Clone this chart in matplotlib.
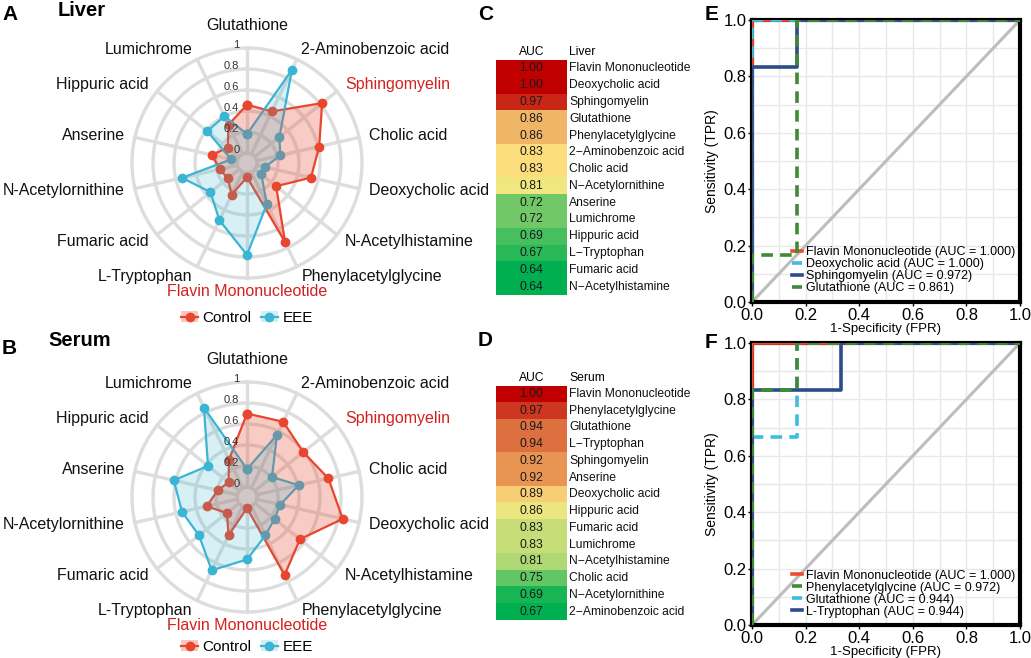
import numpy as np
import matplotlib
matplotlib.use('Agg')
from matplotlib import pyplot as plt
from matplotlib.colors import LinearSegmentedColormap, TwoSlopeNorm
from matplotlib.lines import Line2D
from matplotlib.patches import Patch

plt.rcParams['font.family'] = ['Liberation Sans', 'DejaVu Sans']

# ---- data ----
metabolites = ['Glutathione', '2-Aminobenzoic acid', 'Sphingomyelin', 'Cholic acid',
               'Deoxycholic acid', 'N-Acetylhistamine', 'Phenylacetylglycine',
               'Flavin Mononucleotide', 'L-Tryptophan', 'Fumaric acid',
               'N-Acetylornithine', 'Anserine', 'Hippuric acid', 'Lumichrome']
highlight = ['Sphingomyelin', 'Flavin Mononucleotide']

liver_control = [0.46, 0.45, 0.82, 0.61, 0.53, 0.26, 0.74, 0.04, 0.24, 0.14, 0.17, 0.25, 0.14, 0.31]
liver_eee = [0.18, 0.89, 0.30, 0.23, 0.08, 0.08, 0.34, 0.78, 0.51, 0.35, 0.54, 0.06, 0.39, 0.40]
serum_control = [0.70, 0.70, 0.59, 0.70, 0.84, 0.55, 0.73, 0.01, 0.31, 0.15, 0.30, 0.19, 0.13, 0.30]
serum_eee = [0.17, 0.56, 0.21, 0.41, 0.23, 0.24, 0.31, 0.50, 0.68, 0.49, 0.54, 0.62, 0.38, 0.85]
radial_ticks = [0, 0.2, 0.4, 0.6, 0.8, 1]
radial_labels = ['0', '0.2', '0.4', '0.6', '0.8', '1']

liver_auc_names = ['Flavin Mononucleotide', 'Deoxycholic acid', 'Sphingomyelin', 'Glutathione',
                   'Phenylacetylglycine', '2\u2212Aminobenzoic acid', 'Cholic acid',
                   'N\u2212Acetylornithine', 'Anserine', 'Lumichrome', 'Hippuric acid',
                   'L\u2212Tryptophan', 'Fumaric acid', 'N\u2212Acetylhistamine']
liver_auc = [1.00, 1.00, 0.97, 0.86, 0.86, 0.83, 0.83, 0.81, 0.72, 0.72, 0.69, 0.67, 0.64, 0.64]
serum_auc_names = ['Flavin Mononucleotide', 'Phenylacetylglycine', 'Glutathione', 'L\u2212Tryptophan',
                   'Sphingomyelin', 'Anserine', 'Deoxycholic acid', 'Hippuric acid',
                   'Fumaric acid', 'Lumichrome', 'N\u2212Acetylhistamine', 'Cholic acid',
                   'N\u2212Acetylornithine', '2\u2212Aminobenzoic acid']
serum_auc = [1.00, 0.97, 0.94, 0.94, 0.92, 0.92, 0.89, 0.86, 0.83, 0.83, 0.81, 0.75, 0.69, 0.67]

# ROC curves (fpr, tpr)
liver_roc_names = ['Flavin Mononucleotide', 'Deoxycholic acid', 'Sphingomyelin', 'Glutathione']
liver_roc_auc = [1.000, 1.000, 0.972, 0.861]
liver_roc_fpr = [[0, 0, 1], [0, 0, 1], [0, 0, 1/6, 1/6, 1], [0, 0, 1/6, 1/6, 1]]
liver_roc_tpr = [[0, 1, 1], [0, 1, 1], [0, 5/6, 5/6, 1, 1], [0, 1/6, 1/6, 1, 1]]
serum_roc_names = ['Flavin Mononucleotide', 'Phenylacetylglycine', 'Glutathione', 'L-Tryptophan']
serum_roc_auc = [1.000, 0.972, 0.944, 0.944]
serum_roc_fpr = [[0, 0, 1], [0, 0, 1/6, 1/6, 1], [0, 0, 1/6, 1/6, 1], [0, 0, 2/6, 2/6, 1]]
serum_roc_tpr = [[0, 1, 1], [0, 5/6, 5/6, 1, 1], [0, 4/6, 4/6, 1, 1], [0, 5/6, 5/6, 1, 1]]

RED = '#E8462E'
BLUE = '#3AB5D3'
C_RED, C_CYAN, C_NAVY, C_GREEN = '#F04A2E', '#3EBDE2', '#2C4C8C', '#3E8B33'
W, H = 1031, 658
R0 = 0.095  # radial offset so that 0 sits on a small inner circle

fig = plt.figure(figsize=(W / 100, H / 100), dpi=100)


def rr(v):
    return (np.asarray(v, dtype=float) + R0) / (1 + R0)


def radar(cx, cy, ctrl, eee):
    R = 115
    ax = fig.add_axes([(cx - R) / W, 1 - (cy + R) / H, 2 * R / W, 2 * R / H])
    ax.set_xlim(-1, 1)
    ax.set_ylim(-1, 1)
    ax.axis('off')
    n = len(metabolites)
    th = np.arange(n) * 2 * np.pi / n
    tt = np.linspace(0, 2 * np.pi, 361)
    for lv in radial_ticks:
        ax.plot(rr(lv) * np.sin(tt), rr(lv) * np.cos(tt), color='#DDDDDD', lw=2.4,
                zorder=1, clip_on=False)
    for t in th:
        ax.plot(rr([0, 1]) * np.sin(t), rr([0, 1]) * np.cos(t), color='#DDDDDD', lw=2.4,
                zorder=1, clip_on=False)
    thc = np.append(th, th[0])
    for vals, col in [(ctrl, RED), (eee, BLUE)]:
        r = rr(np.append(vals, vals[0]))
        ax.plot(r * np.sin(thc), r * np.cos(thc), color=col, lw=1.6, marker='o', ms=6,
                zorder=2, clip_on=False)
    for vals, col, a in [(ctrl, RED, 0.28), (eee, BLUE, 0.2)]:
        r = rr(np.append(vals, vals[0]))
        ax.fill(r * np.sin(thc), r * np.cos(thc), color=col, alpha=a, lw=0, zorder=3)
    for lv, lab in zip(radial_ticks, radial_labels):
        ax.annotate(lab, xy=(0, rr(lv)), xytext=(-5.5, 2.5), textcoords='offset points',
                    ha='right', va='center', fontsize=8, color='#333333', zorder=5)
    for t, name in zip(th, metabolites):
        s, c = np.sin(t), np.cos(t)
        ha = 'left' if s > 0.05 else ('right' if s < -0.05 else 'center')
        if c > 0.99:
            lr = 1.21
        elif c < -0.99:
            lr = 1.125
        else:
            lr = 1.10
        ax.text(rr(lr) * s, rr(lr) * c, name, ha=ha, va='center', fontsize=11.5,
                color='#D42020' if name in highlight else '#111111')
    return ax


def radar_legend(y):
    h1 = (Patch(facecolor=RED, alpha=0.3, lw=0), Line2D([], [], color=RED, marker='o', ms=6, lw=1.6))
    h2 = (Patch(facecolor=BLUE, alpha=0.22, lw=0), Line2D([], [], color=BLUE, marker='o', ms=6, lw=1.6))
    fig.legend([h1, h2], ['Control', 'EEE'], loc='center', bbox_to_anchor=(247 / W, 1 - y / H),
               ncol=2, frameon=False, fontsize=11, handlelength=1.1, handletextpad=0.3,
               columnspacing=0.6)


radar(247, 163, liver_control, liver_eee)
radar(247, 497, serum_control, serum_eee)
radar_legend(318)
radar_legend(647)

fig.text(2 / W, 1 - 15 / H, 'A', fontsize=15, fontweight='bold', va='center')
fig.text(58 / W, 1 - 10 / H, 'Liver', fontsize=14.5, fontweight='bold', va='center')
fig.text(2 / W, 1 - 348 / H, 'B', fontsize=15, fontweight='bold', va='center')
fig.text(48 / W, 1 - 341 / H, 'Serum', fontsize=14.5, fontweight='bold', va='center')

# ---- AUC heatmaps ----
cmap = LinearSegmentedColormap.from_list('auc', ['#00B050', '#FFEB84', '#C00000'])


def heat(top, bottom, names, vals, tissue):
    ax = fig.add_axes([496 / W, 1 - bottom / H, 71 / W, (bottom - top) / H])
    v = np.array(vals)
    norm = TwoSlopeNorm(vmin=v.min(), vcenter=np.median(v), vmax=v.max())
    ax.imshow(v.reshape(-1, 1), cmap=cmap, norm=norm, aspect='auto', extent=(0, 1, len(v), 0))
    ax.set_xlim(0, 1)
    ax.set_ylim(len(v), 0)
    ax.axis('off')
    for i, (nm, val) in enumerate(zip(names, vals)):
        ax.text(0.5, i + 0.5, f'{val:.2f}', ha='center', va='center', fontsize=8.7, color='#1a1a1a')
        ax.text(1.03, i + 0.5, nm, ha='left', va='center', fontsize=8.7, color='#111111')
    ax.text(0.5, -0.45, 'AUC', ha='center', va='center', fontsize=8.7)
    ax.text(1.03, -0.45, tissue, ha='left', va='center', fontsize=8.7)


heat(60, 295, liver_auc_names, liver_auc, 'Liver')
heat(385.5, 620, serum_auc_names, serum_auc, 'Serum')
fig.text(478 / W, 1 - 15 / H, 'C', fontsize=15, fontweight='bold', va='center')
fig.text(478 / W, 1 - 340 / H, 'D', fontsize=15, fontweight='bold', va='center')


# ---- ROC ----
def roc(top, bottom, names, aucs, fprs, tprs, colors, styles, zorders):
    ax = fig.add_axes([752 / W, 1 - bottom / H, 268 / W, (bottom - top) / H])
    ax.set_xlim(0, 1)
    ax.set_ylim(0, 1)
    ticks = np.arange(0, 1.01, 0.2)
    ax.set_xticks(ticks)
    ax.set_yticks(ticks)
    ax.set_xticklabels([f'{t:.1f}' for t in ticks])
    ax.set_yticklabels([f'{t:.1f}' for t in ticks])
    ax.set_xticks(np.arange(0.1, 1, 0.2), minor=True)
    ax.set_yticks(np.arange(0.1, 1, 0.2), minor=True)
    ax.grid(True, which='both', color='#E8E8E8', lw=1)
    ax.set_axisbelow(True)
    ax.tick_params(which='major', length=3, width=1, labelsize=12, pad=1)
    ax.tick_params(which='minor', length=0)
    for sp in ax.spines.values():
        sp.set_linewidth(3)
        sp.set_zorder(2.5)
    ax.plot([0, 1], [0, 1], color='#BDBDBD', lw=2.2, zorder=1.5)
    handles = []
    for nm, auc, fx, ty, c, ls, z in zip(names, aucs, fprs, tprs, colors, styles, zorders):
        ln, = ax.plot(fx, ty, color=c, lw=2.6, ls=ls, zorder=z,
                      label=f'{nm} (AUC = {auc:.3f})')
        handles.append(ln)
    ax.legend(handles=handles, loc='lower left', bbox_to_anchor=(0.12, 0.0), frameon=False,
              fontsize=9, handlelength=0.8, handletextpad=0.35, labelspacing=0.0,
              borderaxespad=0.2)
    ax.set_xlabel('1-Specificity (FPR)', fontsize=9.5, labelpad=0)
    ax.set_ylabel('Sensitivity (TPR)', fontsize=10, labelpad=3)


dash = (0, (3.2, 2.0))
roc(20, 302, liver_roc_names, liver_roc_auc, liver_roc_fpr, liver_roc_tpr,
    [C_RED, C_CYAN, C_NAVY, C_GREEN], ['-', dash, '-', dash], [3, 4, 5, 6])
roc(343, 625, serum_roc_names, serum_roc_auc, serum_roc_fpr, serum_roc_tpr,
    [C_RED, C_GREEN, C_CYAN, C_NAVY], ['-', dash, dash, '-'], [4, 6, 3, 5])
fig.text(705 / W, 1 - 15 / H, 'E', fontsize=15, fontweight='bold', va='center')
fig.text(705 / W, 1 - 343 / H, 'F', fontsize=15, fontweight='bold', va='center')

fig.savefig('out.png', dpi=100)
